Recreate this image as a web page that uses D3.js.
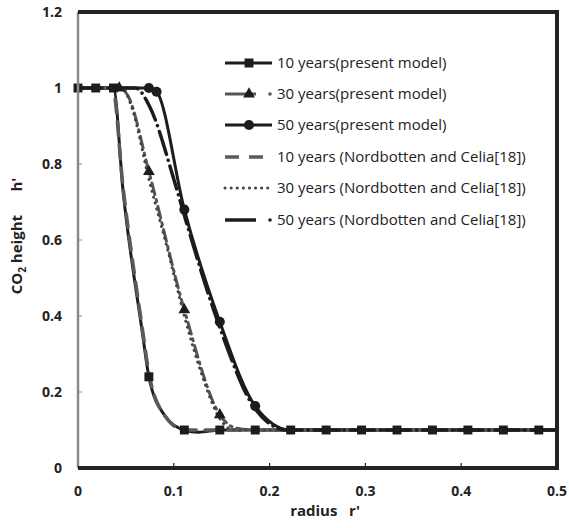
<!DOCTYPE html>
<html>
<head>
<meta charset="utf-8">
<script src="https://cdn.jsdelivr.net/npm/d3@7"></script>
<style>
  body { margin: 0; background: #fff; }
  svg { display: block; font-family: "Open Sans", "Noto Sans", sans-serif; }
</style>
</head>
<body>
<svg id="chart"></svg>
<script>
// radius r' and CO2 height h'
// present model: line points, then the marked points
var p10r = [0, 0.037, 0.047, 0.067, 0.074, 0.09, 0.111, 0.126, 0.148, 0.5];
var p10h = [1, 1, 0.73, 0.36, 0.24, 0.14, 0.1, 0.094, 0.1, 0.1];
var m10r = [0, 0.0185, 0.037, 0.074, 0.111, 0.148, 0.185, 0.222, 0.259, 0.296, 0.333, 0.370, 0.407, 0.444, 0.481];
var m10h = [1, 1, 1, 0.24, 0.1, 0.1, 0.1, 0.1, 0.1, 0.1, 0.1, 0.1, 0.1, 0.1, 0.1];

var p30r = [0, 0.043, 0.052, 0.074, 0.111, 0.148, 0.165, 0.185, 0.5];
var p30h = [1, 1, 0.98, 0.78, 0.416, 0.14, 0.105, 0.1, 0.1];
var m30r = [0.043, 0.074, 0.111, 0.148];
var m30h = [1, 0.78, 0.416, 0.14];

var p50r = [0, 0.074, 0.082, 0.111, 0.148, 0.185, 0.222, 0.5];
var p50h = [1, 1, 0.99, 0.68, 0.385, 0.163, 0.1, 0.1];
var m50r = [0.074, 0.082, 0.111, 0.148, 0.185];
var m50h = [1, 0.99, 0.68, 0.385, 0.163];

// Nordbotten and Celia
var n10r = [0, 0.036, 0.047, 0.067, 0.074, 0.09, 0.111, 0.5];
var n10h = [1, 1, 0.74, 0.37, 0.25, 0.14, 0.1, 0.1];

var n30r = [0, 0.046, 0.056, 0.074, 0.093, 0.111, 0.13, 0.148, 0.163, 0.5];
var n30h = [1, 1, 0.95, 0.76, 0.58, 0.40, 0.24, 0.13, 0.1, 0.1];

var n50r = [0, 0.06, 0.075, 0.1, 0.111, 0.148, 0.185, 0.218, 0.5];
var n50h = [1, 1, 0.95, 0.76, 0.665, 0.37, 0.155, 0.1, 0.1];

var xTicks = [0, 0.1, 0.2, 0.3, 0.4, 0.5];
var yTicks = [0, 0.2, 0.4, 0.6, 0.8, 1, 1.2];

var labels = [
    "10 years(present model)",
    "30 years(present model)",
    "50 years(present model)",
    "10 years (Nordbotten and Celia[18])",
    "30 years (Nordbotten and Celia[18])",
    "50 years (Nordbotten and Celia[18])"
];

var width = 569, height = 528;
var margin = {top: 12, right: 12, bottom: 60, left: 78};

var svg = d3.select("#chart").attr("width", width).attr("height", height);

var x = d3.scaleLinear().domain([0, 0.5]).range([margin.left, width - margin.right]);
var y = d3.scaleLinear().domain([0, 1.2]).range([height - margin.bottom, margin.top]);

function zip(rs, hs) {
    return rs.map(function (r, i) { return {r: r, h: hs[i]}; });
}

var series = [
    {data: zip(p10r, p10h), marks: zip(m10r, m10h), color: "#1c1c1c", width: 3, dash: null, marker: "square"},
    {data: zip(p30r, p30h), marks: zip(m30r, m30h), color: "#555", width: 3, dash: "12,5,2,5", marker: "triangle"},
    {data: zip(p50r, p50h), marks: zip(m50r, m50h), color: "#1c1c1c", width: 3, dash: null, marker: "circle"},
    {data: zip(n10r, n10h), color: "#5a5a5a", width: 3.5, dash: "14,9", marker: null},
    {data: zip(n30r, n30h), color: "#444", width: 3, dash: "0.1,6", marker: null},
    {data: zip(n50r, n50h), color: "#1c1c1c", width: 3.5, dash: "24,6,0.1,6", marker: null}
];

var line = d3.line()
    .x(function (d) { return x(d.r); })
    .y(function (d) { return y(d.h); })
    .curve(d3.curveMonotoneX);

var x0 = x(0), x1 = x(0.5), y0 = y(0), y1 = y(1.2);

svg.append("g").selectAll("line")
    .data(yTicks.slice(1, -1))
    .enter().append("line")
    .attr("x1", x0).attr("x2", x0 + 4)
    .attr("y1", function (d) { return y(d); })
    .attr("y2", function (d) { return y(d); })
    .attr("stroke", "#888").attr("stroke-width", 1);

svg.append("g").selectAll("line")
    .data(xTicks.slice(1, -1))
    .enter().append("line")
    .attr("x1", function (d) { return x(d); })
    .attr("x2", function (d) { return x(d); })
    .attr("y1", y0).attr("y2", y0 - 5)
    .attr("stroke", "#222").attr("stroke-width", 1.2);

var plot = svg.append("g");

series.forEach(function (s) {
    plot.append("path")
        .datum(s.data)
        .attr("fill", "none")
        .attr("stroke", s.color)
        .attr("stroke-width", s.width)
        .attr("stroke-linecap", s.dash ? "round" : "butt")
        .attr("stroke-dasharray", s.dash)
        .attr("d", line);
});

var sym = {
    square: d3.symbol().type(d3.symbolSquare).size(80),
    triangle: d3.symbol().type(d3.symbolTriangle).size(60),
    circle: d3.symbol().type(d3.symbolCircle).size(80)
};

// markers last, squares on top
[series[2], series[1], series[0]].forEach(function (s) {
    plot.append("g").selectAll("path")
        .data(s.marks)
        .enter().append("path")
        .attr("transform", function (d) { return "translate(" + x(d.r) + "," + y(d.h) + ")"; })
        .attr("d", sym[s.marker])
        .attr("fill", "#1c1c1c");
});

svg.append("line")
    .attr("x1", x0).attr("x2", x0).attr("y1", y1).attr("y2", y0)
    .attr("stroke", "#8a8a8a").attr("stroke-width", 2.5);
svg.append("path")
    .attr("d", "M" + x0 + "," + y1 + "H" + x1 + "V" + y0 + "H" + x0)
    .attr("fill", "none").attr("stroke", "#222").attr("stroke-width", 4);

// tick labels
svg.append("g").selectAll("text")
    .data(xTicks)
    .enter().append("text")
    .attr("x", function (d) { return x(d); })
    .attr("y", 496)
    .attr("text-anchor", "middle")
    .attr("font-size", 14).attr("font-weight", "bold").attr("fill", "#222")
    .text(function (d) { return d; });

svg.append("g").selectAll("text")
    .data(yTicks)
    .enter().append("text")
    .attr("x", 62)
    .attr("y", function (d) { return y(d) + 5; })
    .attr("text-anchor", "end")
    .attr("font-size", 14).attr("font-weight", "bold").attr("fill", "#222")
    .text(function (d) { return d; });

// axis titles
svg.append("text")
    .attr("x", 325).attr("y", 516)
    .attr("text-anchor", "middle")
    .attr("font-size", 15).attr("font-weight", "bold").attr("fill", "#222")
    .attr("xml:space", "preserve")
    .text("radius   r'");

var yt = svg.append("text")
    .attr("transform", "translate(22,236) rotate(-90)")
    .attr("text-anchor", "middle")
    .attr("font-size", 15).attr("font-weight", "bold").attr("fill", "#222")
    .attr("xml:space", "preserve");
yt.append("tspan").text("CO");
yt.append("tspan").attr("font-size", 10).attr("dy", 4).text("2");
yt.append("tspan").attr("dy", -4).text(" height      h'");

// legend
var lg = svg.append("g");
var rowY = [63, 94, 125, 157, 188, 220];
var lx0 = 225, lx1 = 272;

lg.selectAll("text")
    .data(labels)
    .enter().append("text")
    .attr("x", 277)
    .attr("y", function (d, i) { return rowY[i] + 5; })
    .attr("font-size", 15).attr("fill", "#222")
    .text(function (d) { return d; });

series.forEach(function (s, i) {
    var yy = rowY[i];
    var x2 = (i === 1 || i === 5) ? 256 : lx1;
    lg.append("line")
        .attr("x1", lx0).attr("x2", x2).attr("y1", yy).attr("y2", yy)
        .attr("stroke", s.color).attr("stroke-width", s.width)
        .attr("stroke-linecap", i === 4 ? "round" : "butt")
        .attr("stroke-dasharray", i === 3 ? "14,10" : (i === 4 ? "0.1,6" : null));
    if (i === 1 || i === 5) {
        lg.append("circle").attr("cx", 270).attr("cy", yy).attr("r", 1.8).attr("fill", s.color);
    }
    if (s.marker) {
        lg.append("path")
            .attr("transform", "translate(249," + yy + ")")
            .attr("d", sym[s.marker])
            .attr("fill", "#1c1c1c");
    }
});
</script>
</body>
</html>
